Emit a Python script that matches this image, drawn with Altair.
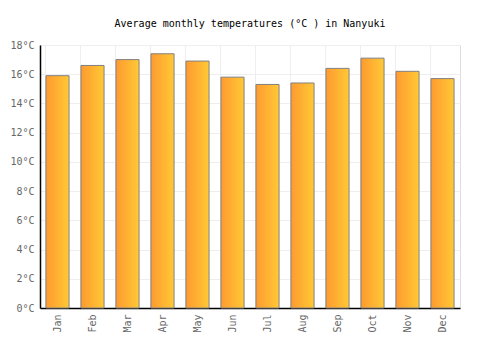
import altair as alt
import pandas as pd

months = ["Jan", "Feb", "Mar", "Apr", "May", "Jun", "Jul", "Aug", "Sep", "Oct", "Nov", "Dec"]
temps = [15.9, 16.6, 17.0, 17.4, 16.9, 15.8, 15.3, 15.4, 16.4, 17.1, 16.2, 15.7]
y_ticks = [0, 2, 4, 6, 8, 10, 12, 14, 16, 18]

df = pd.DataFrame({"month": months, "temp": temps})

FONT = "DejaVu Sans Mono"

chart = alt.Chart(df).mark_bar(
    color=alt.Gradient(
        gradient="linear",
        stops=[alt.GradientStop(color="#ff9a30", offset=0), alt.GradientStop(color="#ffc935", offset=1)],
        x1=0, x2=1, y1=0, y2=0,
    ),
    stroke="#808080",
    strokeWidth=1,
).encode(
    x=alt.X("month:N", sort=months, title=None,
            scale=alt.Scale(paddingInner=0.34, paddingOuter=0.17),
            axis=alt.Axis(labelAngle=-90, labelFont=FONT, labelFontSize=10, labelColor="#666",
                          domainColor="black", domainWidth=1.5, ticks=False, labelPadding=6,
                          grid=True, gridColor="#eeeeee", bandPosition=0, labelBaseline="middle")),
    y=alt.Y("temp:Q", title=None,
            scale=alt.Scale(domain=[0, 18], nice=False),
            axis=alt.Axis(values=y_ticks, labelExpr="datum.value + '°C'", labelFont=FONT,
                          labelFontSize=10, labelColor="#666", domainColor="black", domainWidth=1.5,
                          ticks=False, labelPadding=6, gridColor="#eeeeee")),
).properties(
    width=420,
    height=263,
    title=alt.TitleParams("Average monthly temperatures (°C ) in Nanyuki", font=FONT, fontSize=10,
                          fontWeight="normal", color="black", offset=11, anchor="middle"),
    autosize=alt.AutoSizeParams(type="none"),
    padding={"left": 40, "top": 45, "right": 40, "bottom": 42},
).configure_view(stroke="#eeeeee").configure(background="white")

chart.save("out.html", embed_options={"renderer": "svg", "actions": False})
